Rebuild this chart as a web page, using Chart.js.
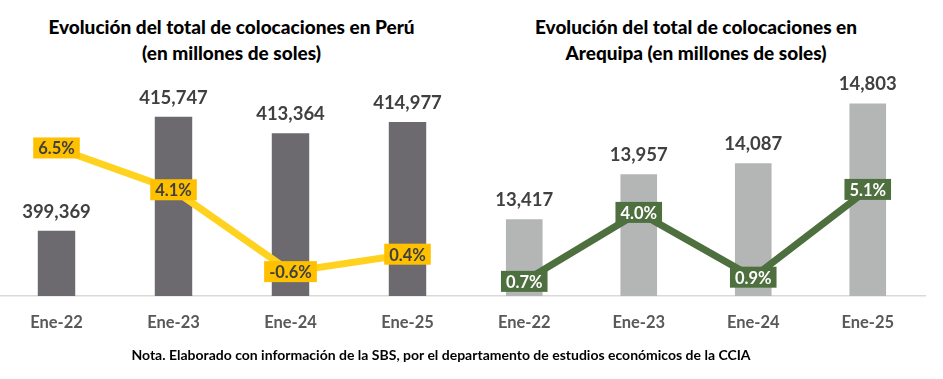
<!DOCTYPE html>
<html>
<head>
<meta charset="utf-8">
<script src="https://cdn.jsdelivr.net/npm/chart.js@4.4.1/dist/chart.umd.min.js"></script>
<style>
  html, body { margin: 0; padding: 0; background: #fff; }
  body { width: 943px; height: 379px; position: relative; overflow: hidden; font-family: Lato, sans-serif; }
  .title { position: absolute; top: 14px; font-weight: 900; font-size: 19px; line-height: 26px; color: #000; text-align: center; }
  #t1 { left: 0; width: 463px; }
  #t2 { left: 467px; width: 458px; }
  #note { position: absolute; top: 346px; left: 0; width: 882px; text-align: center; font-weight: bold; font-size: 14px; color: #000; }
  canvas { position: absolute; top: 0; }
  #wrap1 { position: absolute; left: -2px; top: 0; width: 470px; height: 379px; }
  #wrap2 { position: absolute; left: 467px; top: 0; width: 476px; height: 379px; }
</style>
</head>
<body>
<div class="title" id="t1">Evolución del total de colocaciones en Perú<br>(en millones de soles)</div>
<div class="title" id="t2">Evolución del total de colocaciones en<br>Arequipa (en millones de soles)</div>
<div id="wrap1"><canvas id="c1"></canvas></div>
<div id="wrap2"><canvas id="c2"></canvas></div>
<div id="note">Nota. Elaborado con información de la SBS, por el departamento de estudios económicos de la CCIA</div>
<script>
const categories = ['Ene-22', 'Ene-23', 'Ene-24', 'Ene-25'];
const peruTotals = [399369, 415747, 413364, 414977];
const peruGrowth = [6.5, 4.1, -0.6, 0.4];
const aqpTotals = [13417, 13957, 14087, 14803];
const aqpGrowth = [0.7, 4.0, 0.9, 5.1];

const FONT = 'Lato, sans-serif';

const labelPlugin = {
  id: 'customLabels',
  afterDatasetsDraw(chart, args, opts) {
    const ctx = chart.ctx;
    chart.data.datasets.forEach((ds, di) => {
      const meta = chart.getDatasetMeta(di);
      if (meta.hidden) return;
      meta.data.forEach((el, i) => {
        const v = ds.data[i];
        ctx.save();
        if (ds.type === 'bar') {
          const txt = v.toLocaleString('en-US');
          ctx.font = 'bold 18.5px ' + FONT;
          ctx.fillStyle = '#404040';
          ctx.textAlign = 'center';
          ctx.textBaseline = 'middle';
          ctx.fillText(txt, el.x, el.y - 19);
        } else {
          const txt = v.toFixed(1) + '%';
          ctx.font = 'bold 16.5px ' + FONT;
          const w = ctx.measureText(txt).width + 10;
          const h = 21;
          ctx.fillStyle = opts.boxColor;
          ctx.fillRect(el.x - w / 2, el.y - h / 2, w, h);
          ctx.fillStyle = opts.textColor;
          ctx.textAlign = 'center';
          ctx.textBaseline = 'middle';
          ctx.fillText(txt, el.x, el.y + 1);
        }
        ctx.restore();
      });
    });
  }
};

function makeChart(id, totals, growth, barColor, lineColor, boxColor, textColor, yMin, yMax, y1Min, y1Max, padRight) {
  return new Chart(document.getElementById(id), {
    data: {
      labels: categories,
      datasets: [
        {
          type: 'line',
          data: growth,
          yAxisID: 'y1',
          borderColor: lineColor,
          borderWidth: 7,
          pointRadius: 0,
          tension: 0,
          order: 0
        },
        {
          type: 'bar',
          data: totals,
          yAxisID: 'y',
          backgroundColor: barColor,
          categoryPercentage: 1,
          barPercentage: 0.32,
          order: 1
        }
      ]
    },
    options: {
      responsive: true,
      maintainAspectRatio: false,
      animation: false,
      events: [],
      layout: { padding: { top: 87, left: 0, right: padRight, bottom: 43 } },
      plugins: {
        legend: { display: false },
        title: { display: false },
        tooltip: { enabled: false },
        customLabels: { boxColor: boxColor, textColor: textColor }
      },
      scales: {
        x: {
          grid: { display: false, drawTicks: false },
          border: { display: true, color: '#D9D9D9', width: 1.5 },
          ticks: { color: '#595959', font: { family: FONT, size: 16.5, weight: 'bold' }, padding: 17 },
          afterFit: (s) => { s.height = 40; }
        },
        y: { display: false, min: yMin, max: yMax },
        y1: { display: false, min: y1Min, max: y1Max, position: 'right' }
      }
    },
    plugins: [labelPlugin]
  });
}

makeChart('c1', peruTotals, peruGrowth, '#6C6A6E', '#FFD21F', '#FFC000', '#404040', 390000, 420000, -2, 10, 2);
makeChart('c2', aqpTotals, aqpGrowth, '#B3B6B5', '#4E6F3E', '#4E6F3E', '#FFFFFF', 12500, 15000, 0, 10, 18);
</script>
</body>
</html>
